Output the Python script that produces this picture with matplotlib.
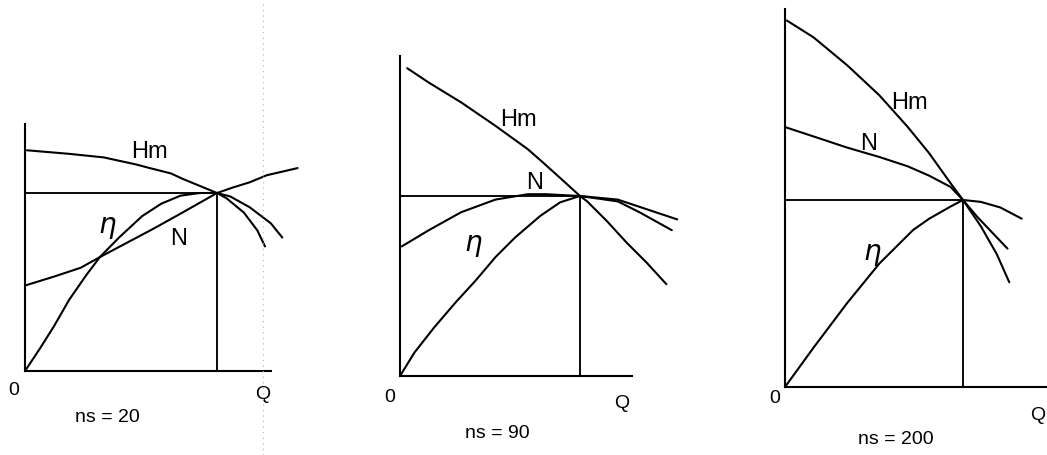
import matplotlib
matplotlib.use('Agg')
import matplotlib.pyplot as plt
from matplotlib.lines import Line2D

################################################################################
# Datos: curvas características (en % del punto de máximo rendimiento)

# ns = 20
q1_hm = [1, 23, 41, 58, 65, 76, 82, 100, 105, 114, 121, 125]
v1_hm = [124, 122, 120, 116, 114, 111, 108, 100, 97, 89, 79, 70]
q1_eta = [0, 8, 15, 23, 32, 39, 49, 61, 71, 81, 91, 100, 107, 117, 128, 134]
v1_eta = [0, 13, 25, 40, 54, 64, 75, 87, 94, 98.5, 100, 100, 98, 92, 83, 75]
q1_n = [0, 15, 29, 39, 53, 67, 82, 100, 108, 117, 126, 142]
v1_n = [48, 53, 58, 64, 72, 80, 89, 100, 103, 106, 110, 114]

# ns = 90
q2_hm = [4, 16, 34, 53, 71, 79, 89, 100, 104, 115, 126, 137, 148]
v2_hm = [171, 163, 152, 139, 126, 119, 110, 100, 97, 86, 74, 63, 51]
q2_eta = [0, 8, 19, 31, 42, 53, 64, 78, 89, 100, 121, 133, 151]
v2_eta = [0, 13, 27, 41, 53, 66, 77, 89, 96.5, 100, 97, 91, 81]
q2_n = [1, 16, 34, 53, 71, 81, 100, 121, 133, 154]
v2_n = [72, 81, 91, 98, 101, 101, 100, 98, 94, 87]

# ns = 200
q3_hm = [1, 16, 35, 53, 69, 81, 93, 100, 110, 119, 126]
v3_hm = [196, 187, 172, 156, 139, 125, 109, 100, 86, 71, 56]
q3_eta = [0, 16, 35, 53, 72, 81, 93, 100, 110, 121, 133]
v3_eta = [0, 21, 45, 66, 84, 90, 96.5, 100, 99, 96, 90]
q3_n = [0, 16, 35, 53, 69, 81, 93, 100, 108, 117, 125]
v3_n = [139, 134, 128, 123, 118, 113, 107, 100, 91, 82, 74]

titulos = ['ns = 20', 'ns = 90', 'ns = 200']
################################################################################

W, H = 1047, 455
fig = plt.figure(figsize=(W / 100, H / 100), dpi=100)
fig.patch.set_facecolor('white')

plt.rcParams['font.family'] = ['Liberation Sans', 'DejaVu Sans']

# (origen x, origen y, px por 100% en Q, px por 100% en valor, Q max, valor max)
paneles = [
    (25, 371, 192, 178, 128, 139),
    (400, 376, 180, 180, 129, 178),
    (785, 387, 178, 187, 147, 202),
]
curvas = [
    (q1_hm, v1_hm, q1_eta, v1_eta, q1_n, v1_n),
    (q2_hm, v2_hm, q2_eta, v2_eta, q2_n, v2_n),
    (q3_hm, v3_hm, q3_eta, v3_eta, q3_n, v3_n),
]
# posiciones de etiquetas (Q, valor)
etiq = [
    {'Hm': (65, 123), 'eta': (43, 81), 'N': (80, 74), 'O': (-6, -11), 'Q': (124, -13), 'ns': (43, -26)},
    {'Hm': (66, 142), 'eta': (41, 73), 'N': (75, 107), 'O': (-6, -12), 'Q': (123, -15), 'ns': (54, -32)},
    {'Hm': (70, 152), 'eta': (49, 71), 'N': (47, 130), 'O': (-6, -6), 'Q': (142, -15), 'ns': (62, -28)},
]

lw = 1.5
for i, (x0, y0, sx, sy, qmax, vmax) in enumerate(paneles):
    ax = fig.add_axes([x0 / W, (H - y0) / H, qmax * sx / 100 / W, vmax * sy / 100 / H])
    ax.set_xlim(0, qmax)
    ax.set_ylim(0, vmax)
    for s in ['top', 'right']:
        ax.spines[s].set_visible(False)
    for s in ['left', 'bottom']:
        ax.spines[s].set_linewidth(lw)
    ax.set_xticks([])
    ax.set_yticks([])
    ax.patch.set_alpha(0)

    qh, vh, qe, ve, qn, vn = curvas[i]
    for q, v in [(qh, vh), (qe, ve), (qn, vn)]:
        ax.plot(q, v, color='black', lw=lw, clip_on=False,
                solid_joinstyle='round', solid_capstyle='round')
    # líneas del punto óptimo
    ax.plot([0, 100], [100, 100], color='black', lw=lw * 0.9)
    ax.plot([100, 100], [0, 100], color='black', lw=lw * 0.9)

    e = etiq[i]
    ax.text(*e['Hm'], 'Hm', fontsize=17, ha='center', va='center')
    ax.text(*e['N'], 'N', fontsize=17, ha='center', va='center')
    ax.text(*e['eta'], r'$\eta$', fontsize=20, ha='center', va='center', family='DejaVu Sans')
    ax.text(*e['O'], '0', fontsize=14, ha='center', va='center', clip_on=False)
    ax.text(*e['Q'], 'Q', fontsize=14, ha='center', va='center', clip_on=False)
    ax.text(*e['ns'], titulos[i], fontsize=14, ha='center', va='center', clip_on=False)

# pliegue del escaneo
fig.add_artist(Line2D([263 / W, 263 / W], [0, 1], color='#b0b0b0', lw=0.8, ls=(0, (1, 4))))

fig.savefig('out.png', dpi=100)
